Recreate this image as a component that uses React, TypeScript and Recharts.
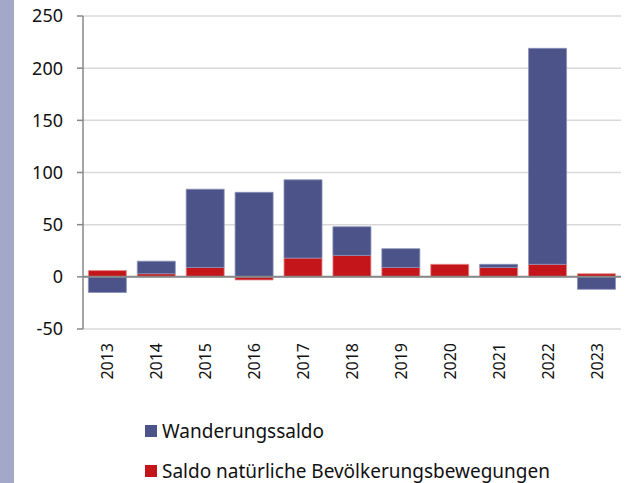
import React from "react";
import {
  Bar,
  BarChart,
  CartesianGrid,
  ReferenceLine,
  XAxis,
  YAxis,
} from "recharts";

const years = ["2013", "2014", "2015", "2016", "2017", "2018", "2019", "2020", "2021", "2022", "2023"];
const wanderungssaldo = [-15, 12, 75, 81, 75, 27.5, 18, 0, 3, 207, -12];
const natuerlicheSaldo = [6, 3, 9, -3, 18, 20.5, 9, 12, 9, 12, 3];
const yTicks = [-50, 0, 50, 100, 150, 200, 250];

const BLUE = "#4b5389";
const RED = "#c4161a";
const FONT = "'Noto Sans', sans-serif";

const data = years.map((year, i) => ({
  year,
  wanderung: wanderungssaldo[i],
  natuerlich: natuerlicheSaldo[i],
}));

function YearTick(props: any) {
  const { x, y, payload } = props;
  return (
    <text
      x={x}
      y={y}
      transform={`rotate(-90 ${x} ${y})`}
      textAnchor="end"
      dominantBaseline="central"
      fontFamily={FONT}
      fontSize={16}
      fill="#111"
    >
      {payload.value}
    </text>
  );
}

function LegendRow({ color, label, top }: { color: string; label: string; top: number }) {
  return (
    <div style={{ position: "absolute", left: 145, top, display: "flex", alignItems: "center" }}>
      <div style={{ width: 12, height: 12, background: color, marginRight: 5 }} />
      <span style={{ fontFamily: FONT, fontSize: 19, color: "#111", lineHeight: "20px" }}>{label}</span>
    </div>
  );
}

export default function App() {
  return (
    <div style={{ position: "absolute", left: 0, top: 0, width: 637, height: 483, background: "#fff" }}>
      <div style={{ position: "absolute", left: 0, top: 0, width: 14, height: 483, background: "#a4a8c8" }} />
      <BarChart
        width={637}
        height={400}
        data={data}
        stackOffset="sign"
        barCategoryGap="11%"
        margin={{ top: 16, right: 16, bottom: 11, left: 0 }}
      >
        <CartesianGrid vertical={false} stroke="#d9d9d9" strokeWidth={1.5} />
        <XAxis
          dataKey="year"
          axisLine={false}
          tickLine={false}
          tickSize={0}
          tickMargin={14}
          height={60}
          interval={0}
          tick={<YearTick />}
        />
        <YAxis
          domain={[-50, 250]}
          ticks={yTicks}
          width={83}
          tickSize={6}
          tickMargin={14}
          axisLine={{ stroke: "#878787", strokeWidth: 1.5 }}
          tickLine={{ stroke: "#878787", strokeWidth: 1.5 }}
          tick={{ fill: "#111", fontSize: 18, fontFamily: FONT }}
        />
        <Bar
          dataKey="natuerlich"
          stackId="a"
          fill={RED}
          stroke="#e58a8c"
          strokeWidth={0.8}
          isAnimationActive={false}
        />
        <Bar
          dataKey="wanderung"
          stackId="a"
          fill={BLUE}
          stroke="#8a90b8"
          strokeWidth={0.8}
          isAnimationActive={false}
        />
        <ReferenceLine y={0} stroke="#878787" strokeWidth={2} />
      </BarChart>
      <LegendRow color={BLUE} label="Wanderungssaldo" top={421} />
      <LegendRow color={RED} label="Saldo natürliche Bevölkerungsbewegungen" top={461} />
    </div>
  );
}
